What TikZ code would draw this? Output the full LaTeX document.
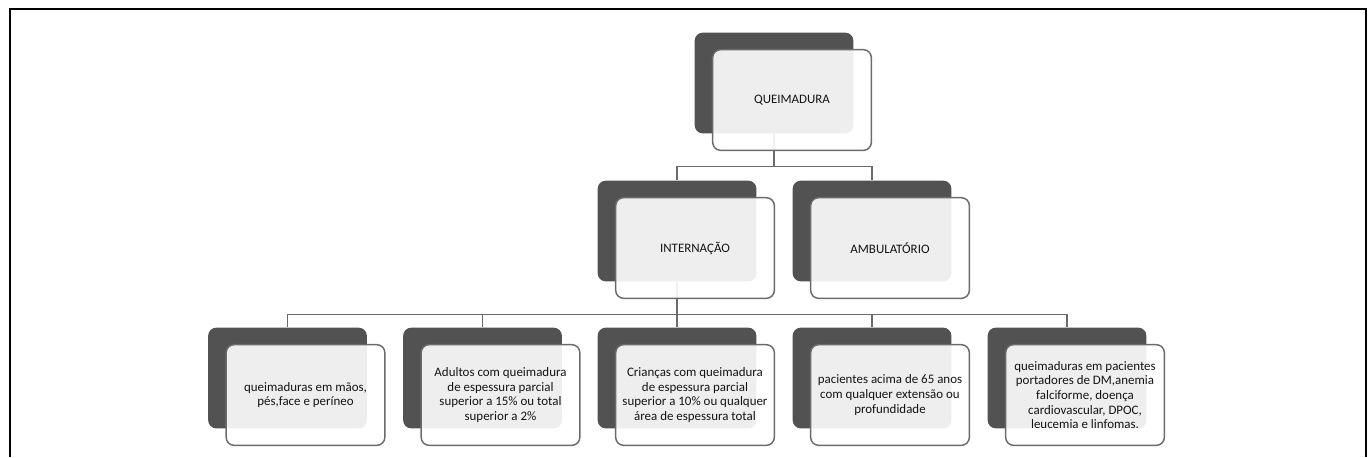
\documentclass[tikz,border=0pt]{standalone}
\usepackage{fontspec}
\setmainfont{Carlito}
\definecolor{boxdark}{HTML}{525252}
\definecolor{boxline}{HTML}{6B6B6B}
\definecolor{boxtext}{HTML}{141414}

\begin{document}
\begin{tikzpicture}[x=0.75pt,y=-0.75pt,
    back/.style={fill=boxdark, rounded corners=6pt, minimum width=119pt, minimum height=75.5pt, inner sep=0pt},
    front/.style={back, fill=white, fill opacity=0.9, text opacity=1, draw=boxline, line width=1.1pt,
                  xshift=13.5pt, yshift=-12.75pt, align=center, text=boxtext,
                  font=\fontsize{9.7}{11}\selectfont},
    link/.style={draw=boxline, line width=1.1pt}]
    \useasboundingbox (0,0) rectangle (1370,457);
    \draw[line width=1.2pt] (10,457) -- (10,9) -- (1366,9) -- (1366,457);

    \node[back] at (774,83)     (q)  {};
    \node[back] at (677,231)    (i)  {};
    \node[back] at (872,231)    (a)  {};
    \node[back] at (287.5,378)  (l1) {};
    \node[back] at (482.5,378)  (l2) {};
    \node[back] at (677,378)    (l3) {};
    \node[back] at (872,378)    (l4) {};
    \node[back] at (1067,378)   (l5) {};

    \draw[link] (q.south) -- ++(0,33) -| (i.north);
    \draw[link] (q.south) -- ++(0,33) -| (a.north);
    \draw[link] (i.south) -- ++(0,33) -| (l1.north);
    \draw[link] (i.south) -- ++(0,33) -| (l2.north);
    \draw[link] (i.south) -- ++(0,33) -| (l3.north);
    \draw[link] (i.south) -- ++(0,33) -| (l4.north);
    \draw[link] (i.south) -- ++(0,33) -| (l5.north);

    \node[front] at (q)  (qt)  {QUEIMADURA};
    \node[front] at (i)  (it)  {INTERNAÇÃO};
    \node[front] at (a)  (at)  {AMBULATÓRIO};
    \node[front] at (l1) (l1t) {queimaduras em mãos,\\pés,face e períneo};
    \node[front] at (l2) (l2t) {Adultos com queimadura\\de espessura parcial\\superior a 15\% ou total\\superior a 2\%};
    \node[front] at (l3) (l3t) {Crianças com queimadura\\de espessura parcial\\superior a 10\% ou qualquer\\área de espessura total};
    \node[front] at (l4) (l4t) {pacientes acima de 65 anos\\com qualquer extensão ou\\profundidade};
    \node[front] at (l5) (l5t) {queimaduras em pacientes\\portadores de DM,anemia\\falciforme, doença\\cardiovascular, DPOC,\\leucemia e linfomas.};
\end{tikzpicture}
\end{document}
